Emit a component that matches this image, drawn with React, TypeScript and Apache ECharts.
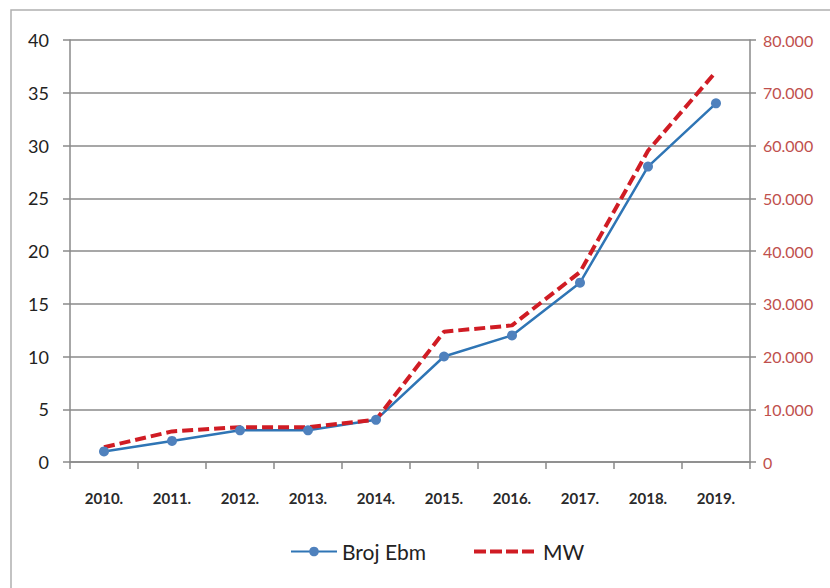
import React, { useEffect, useRef } from "react";
import * as echarts from "echarts";

const categories = ["2010.", "2011.", "2012.", "2013.", "2014.", "2015.", "2016.", "2017.", "2018.", "2019."];
const brojEbm = [1, 2, 3, 3, 4, 10, 12, 17, 28, 34];
const mw = [2800, 5800, 6600, 6600, 8000, 24700, 25900, 36000, 59000, 74000];
const leftTicks = { min: 0, max: 40, interval: 5 };
const rightTicks = { min: 0, max: 80000, interval: 10000 };

const fmtDot = (v: number) => String(v).replace(/\B(?=(\d{3})+(?!\d))/g, ".");

export default function App() {
  const ref = useRef<HTMLDivElement>(null);
  useEffect(() => {
    document.body.style.margin = "0";
    const chart = echarts.init(ref.current!, undefined, { renderer: "svg" });
    const axisGray = "#8a8a8a";
    chart.setOption({
      animation: false,
      backgroundColor: "#ffffff",
      textStyle: { fontFamily: "Lato" },
      graphic: [
        {
          type: "rect",
          shape: { x: 11, y: 10, width: 840, height: 600 },
          style: { fill: "none", stroke: "#b0b0b0", lineWidth: 1.5 },
          silent: true,
        },
      ],
      grid: { left: 70, right: 80, top: 40, bottom: 126 },
      legend: [
        {
          data: ["Broj Ebm"],
          left: 285,
          top: 536,
          itemWidth: 46,
          itemHeight: 12,
          itemGap: 4,
          textStyle: { fontSize: 21, color: "#222", fontFamily: "Lato" },
        },
        {
          data: ["MW"],
          left: 467,
          top: 536,
          itemWidth: 64,
          itemHeight: 12,
          itemStyle: { opacity: 0 },
          lineStyle: { type: [12, 4], width: 4 },
          textStyle: { fontSize: 21, color: "#222", fontFamily: "Lato" },
        },
      ],
      xAxis: {
        type: "category",
        data: categories,
        boundaryGap: true,
        axisLine: { lineStyle: { color: axisGray, width: 1.5 } },
        axisTick: { show: true, length: 7, alignWithLabel: false, lineStyle: { color: axisGray, width: 1.5 } },
        axisLabel: { margin: 28, fontSize: 15, fontWeight: "bold", color: "#2a2a2a", fontFamily: "Lato" },
      },
      yAxis: [
        {
          type: "value",
          ...leftTicks,
          position: "left",
          axisLine: { show: true, lineStyle: { color: axisGray, width: 1.5 } },
          axisTick: { show: true, length: 7, lineStyle: { color: axisGray, width: 1.5 } },
          splitLine: { show: true, lineStyle: { color: axisGray, width: 1.5 } },
          axisLabel: { margin: 21, fontSize: 18, color: "#222", fontFamily: "Lato" },
        },
        {
          type: "value",
          ...rightTicks,
          position: "right",
          axisLine: { show: true, lineStyle: { color: axisGray, width: 1.5 } },
          axisTick: { show: true, length: 6, lineStyle: { color: axisGray, width: 1.5 } },
          splitLine: { show: false },
          axisLabel: {
            margin: 13,
            fontSize: 16,
            color: "#c0504d",
            fontFamily: "Lato",
            formatter: (v: number) => fmtDot(v),
          },
        },
      ],
      series: [
        {
          name: "Broj Ebm",
          type: "line",
          data: brojEbm,
          yAxisIndex: 0,
          symbol: "circle",
          symbolSize: 10,
          lineStyle: { color: "#2f75b5", width: 2.5 },
          itemStyle: { color: "#4f81bd" },
        },
        {
          name: "MW",
          type: "line",
          data: mw,
          yAxisIndex: 1,
          symbol: "none",
          lineStyle: { color: "#d01c24", width: 4, type: [11, 5] },
          itemStyle: { color: "#d01c24" },
        },
      ],
    });
    return () => chart.dispose();
  }, []);
  return <div ref={ref} style={{ width: 830, height: 588 }} />;
}
